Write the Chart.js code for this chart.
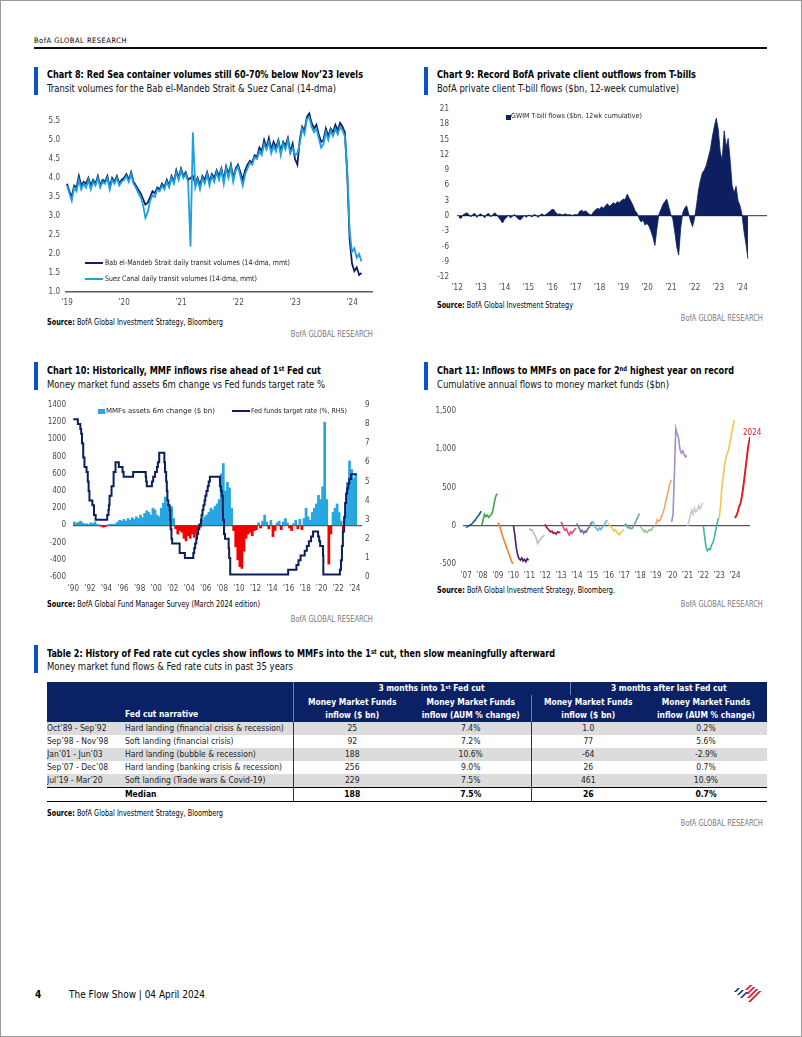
<!DOCTYPE html>
<html><head><meta charset="utf-8"><title>BofA Flow Show p4</title>
<script src="https://cdn.jsdelivr.net/npm/chart.js@4.4.1/dist/chart.umd.min.js"></script>
<style>
*{box-sizing:border-box}
html,body{margin:0;padding:0;background:#fff}
body{width:802px;height:1037px;position:relative;overflow:hidden;font-family:'Liberation Sans Narrow','DejaVu Sans Condensed',Roboto,sans-serif;color:#000}
.a{position:absolute;white-space:nowrap;line-height:1}
.acc{position:absolute;width:4px;height:28px;background:#0b52c4}
.t{font-weight:bold;font-size:10.5px}
.s{font-size:10.5px;color:#111}
.src{font-size:8px}
.src b{font-weight:bold}
.gr{font-size:8px;color:#7a7a7a}
.lg{font-size:7.5px;color:#222}
canvas{position:absolute}
sup{font-size:65%;line-height:0;vertical-align:0.45em}
#t2{position:absolute;left:47px;top:682px;width:720px;border-collapse:collapse;table-layout:fixed;font-size:8.5px}
#t2 td{padding:0;line-height:1;white-space:nowrap;overflow:hidden}
#t2 tr.h td{background:#0a2166;color:#fff;font-weight:bold;font-size:8.4px;text-align:center}
#t2 tr.h1 td{height:13px}
#t2 tr.h2 td{height:27px;line-height:13px}
#t2 tr.d td{height:13px;text-align:center;color:#222}
#t2 tr.g td{background:#dcdcdc}
#t2 tr.m td{height:14px;font-weight:bold;text-align:center;border-top:1.5px solid #000;border-bottom:1.5px solid #000}
#t2 tr td.l{text-align:left}
#t2 tr td.sepC{border-left:1px solid #333}
#t2 tr td.sepE{border-left:1px solid #333}
#t2 tr.h td.sepC,#t2 tr.h td.sepE,#t2 tr.h td.sepH{border-left:1px solid #6d7fae}
</style></head><body>
<div style="position:absolute;left:0;top:0;width:802px;height:1037px;border:1px solid #9a9a9a"></div>
<div class="a" data-w="93" style="left:34px;top:37px;font-size:7.5px;letter-spacing:0.5px">BofA GLOBAL RESEARCH</div>
<div style="position:absolute;left:34px;top:47px;width:733px;height:1.5px;background:#111"></div>

<!-- Chart 8 -->
<div class="acc" style="left:34px;top:67px"></div>
<div class="a t" data-w="316" style="left:47px;top:69px">Chart 8: Red Sea container volumes still 60-70% below Nov’23 levels</div>
<div class="a s" data-w="289" style="left:47px;top:83px">Transit volumes for the Bab el-Mandeb Strait &amp; Suez Canal (14-dma)</div>
<canvas id="c8"></canvas>
<div style="position:absolute;left:85px;top:262px;width:18px;height:2px;background:#0c1f5f"></div>
<div class="a lg" data-w="185" style="left:105px;top:259px">Bab el-Mandeb Strait daily transit volumes (14-dma, mmt)</div>
<div style="position:absolute;left:85px;top:278px;width:18px;height:2px;background:#1ea0e0"></div>
<div class="a lg" data-w="152" style="left:105px;top:275px">Suez Canal daily transit volumes (14-dma, mmt)</div>
<div class="a src" data-w="176" style="left:47px;top:319px"><b>Source:</b> BofA Global Investment Strategy, Bloomberg</div>
<div class="a gr" data-w="82" style="right:429px;top:331px">BofA GLOBAL RESEARCH</div>

<!-- Chart 9 -->
<div class="acc" style="left:424px;top:67px"></div>
<div class="a t" data-w="259" style="left:437px;top:69px">Chart 9: Record BofA private client outflows from T-bills</div>
<div class="a s" data-w="242" style="left:437px;top:83px">BofA private client T-bill flows ($bn, 12-week cumulative)</div>
<canvas id="c9"></canvas>
<div style="position:absolute;left:506px;top:115px;width:5px;height:5px;background:#0d1f5e"></div>
<div class="a lg" data-w="131" style="left:511px;top:113px;font-size:7px">GWIM T-bill flows ($bn, 12wk cumulative)</div>
<div class="a src" data-w="136" style="left:437px;top:302px"><b>Source:</b> BofA Global Investment Strategy</div>
<div class="a gr" data-w="82" style="right:39px;top:315px">BofA GLOBAL RESEARCH</div>

<!-- Chart 10 -->
<div class="acc" style="left:34px;top:362px"></div>
<div class="a t" data-w="274" style="left:47px;top:365px">Chart 10: Historically, MMF inflows rise ahead of 1<sup>st</sup> Fed cut</div>
<div class="a s" data-w="278" style="left:47px;top:379px">Money market fund assets 6m change vs Fed funds target rate %</div>
<canvas id="c10"></canvas>
<div style="position:absolute;left:98px;top:409px;width:7px;height:5px;background:#27a7df"></div>
<div class="a lg" data-w="109" style="left:106px;top:408px;font-size:7px">MMFs assets 6m change ($ bn)</div>
<div style="position:absolute;left:232px;top:410px;width:18px;height:2px;background:#0b1f5d"></div>
<div class="a lg" data-w="96" style="left:251px;top:408px;font-size:7px">Fed funds target rate (%, RHS)</div>
<div class="a src" data-w="213" style="left:47px;top:601px"><b>Source:</b> BofA Global Fund Manager Survey (March 2024 edition)</div>
<div class="a gr" data-w="82" style="right:429px;top:616px">BofA GLOBAL RESEARCH</div>

<!-- Chart 11 -->
<div class="acc" style="left:424px;top:362px"></div>
<div class="a t" data-w="297" style="left:437px;top:365px">Chart 11: Inflows to MMFs on pace for 2<sup>nd</sup> highest year on record</div>
<div class="a s" data-w="232" style="left:437px;top:379px">Cumulative annual flows to money market funds ($bn)</div>
<canvas id="c11"></canvas>
<div class="a" style="left:743px;top:429px;font-size:8px;color:#e8141c">2024</div>
<div class="a src" data-w="178" style="left:437px;top:587px"><b>Source:</b> BofA Global Investment Strategy, Bloomberg.</div>
<div class="a gr" data-w="82" style="right:39px;top:601px">BofA GLOBAL RESEARCH</div>

<!-- Table 2 -->
<div class="acc" style="left:34px;top:645px"></div>
<div class="a t" data-w="508" style="left:47px;top:648px">Table 2: History of Fed rate cut cycles show inflows to MMFs into the 1<sup>st</sup> cut, then slow meaningfully afterward</div>
<div class="a s" data-w="246" style="left:47px;top:661px">Money market fund flows &amp; Fed rate cuts in past 35 years</div>
<table id="t2">
<colgroup><col style="width:78px"><col style="width:168px"><col style="width:118px"><col style="width:120px"><col style="width:39px"><col style="width:75px"><col style="width:122px"></colgroup>
<tbody id="t2b"></tbody>
</table>
<div class="a src" data-w="176" style="left:47px;top:810px"><b>Source:</b> BofA Global Investment Strategy, Bloomberg</div>
<div class="a gr" data-w="82" style="right:39px;top:820px">BofA GLOBAL RESEARCH</div>

<!-- Footer -->
<div class="a" style="left:35px;top:990px;font-size:10px;font-weight:bold">4</div>
<div class="a" data-w="136" style="left:69px;top:990px;font-size:10px">The Flow Show | 04 April 2024</div>
<svg style="position:absolute;left:731px;top:984px" width="34" height="19" viewBox="0 0 34 19">
<polygon points="3,8 7,4 9,4 5,8" fill="#0a2166"/>
<polygon points="6,11 11,6 13,6 8,11" fill="#0a2166"/>
<polygon points="9,14 15,8 17,8 11,14" fill="#0a2166"/>
<polygon points="14,6 19,1 21.5,1 16.5,6" fill="#e31837"/>
<polygon points="15,10 22,3 24.5,3 17.5,10" fill="#e31837"/>
<polygon points="16,14 25,5 27.5,5 18.5,14" fill="#e31837"/>
<polygon points="17,18 28,7 30.5,7 19.5,18" fill="#e31837"/>
</svg>

<script>
// ---------------- DATA ----------------
// Chart 8: semi-monthly readings from Jan 2019
const c8Start = 2019, c8Step = 1/24;
const c8YTicks = [1.0,1.5,2.0,2.5,3.0,3.5,4.0,4.5,5.0,5.5];
const c8XTicks = [2019,2020,2021,2022,2023,2024];
const babMandeb = [3.85,3.65,3.5,3.8,3.75,4.05,3.8,3.9,3.85,4.0,3.8,3.95,3.85,4.05,3.8,3.95,3.9,4.05,3.75,4.0,3.9,4.05,3.85,3.95,
 4.0,4.1,3.95,4.15,3.9,3.8,3.7,3.6,3.45,3.3,3.35,3.5,3.65,3.6,3.75,3.7,3.85,3.75,3.95,3.8,4.05,3.9,4.2,4.0,
 4.25,4.05,4.15,3.95,4.0,4.05,3.85,4.0,3.8,4.05,3.95,4.15,3.9,4.1,4.0,4.2,4.05,4.25,3.95,4.3,4.1,4.35,4.0,4.25,
 4.35,4.15,3.95,4.2,4.35,4.45,4.4,4.6,4.55,4.8,4.7,5.0,4.8,5.05,4.75,4.95,4.8,5.0,4.7,4.95,4.85,5.05,4.7,4.9,
 4.5,4.35,5.0,5.35,5.25,5.6,5.7,5.45,5.3,5.4,5.15,4.95,5.0,5.3,5.1,5.3,5.2,5.4,5.25,5.45,5.35,5.2,4.1,2.4,
 1.75,1.55,1.65,1.45,1.5];
const suezCanal = [3.8,3.6,3.4,3.75,3.65,3.95,3.7,3.85,3.75,3.95,3.7,3.9,3.8,4.0,3.75,3.9,3.85,4.0,3.7,3.95,3.85,4.0,3.8,3.9,
 3.95,4.05,3.9,4.1,3.85,3.75,3.6,3.5,3.3,2.95,3.1,3.4,3.55,3.5,3.7,3.65,3.8,3.7,3.9,3.75,4.0,3.85,4.15,3.95,
 4.2,4.0,4.1,3.9,2.2,5.2,3.75,3.95,3.7,4.0,3.85,4.1,3.8,4.05,3.9,4.15,3.95,4.2,3.85,4.25,4.0,4.3,3.9,4.2,
 4.3,4.05,3.8,4.1,4.25,4.4,4.35,4.55,4.5,4.7,4.6,4.9,4.75,4.95,4.65,4.85,4.7,4.95,4.6,4.9,4.75,5.0,4.65,4.8,
 4.6,4.65,4.9,5.3,5.15,5.55,5.6,5.35,5.2,5.3,5.05,4.8,4.9,5.2,5.0,5.25,5.1,5.3,5.15,5.35,5.25,5.1,4.2,2.6,
 2.05,2.15,1.9,2.0,1.8];

// Chart 9: monthly readings from Feb 2012
const c9Start = 2012 + 1/12, c9Step = 1/12;
const c9YTicks = [-12,-9,-6,-3,0,3,6,9,12,15,18,21];
const c9XTicks = [2012,2013,2014,2015,2016,2017,2018,2019,2020,2021,2022,2023,2024];
const tbillFlows = [-0.3,-0.5,0.2,0.4,0.6,0.3,-0.2,0.3,0.5,-0.3,0.2,0.4,
 0.1,-0.4,0.3,0.5,-0.2,0.2,0.6,0.3,-0.3,-0.8,-1.4,-0.7,
 -0.3,0.2,-0.4,-0.1,0.3,-0.2,-0.6,-0.8,-0.4,0.1,-0.3,0.2,
 0.0,-0.2,0.3,0.1,-0.3,0.2,0.4,0.1,0.3,0.6,0.9,1.3,
 1.2,0.6,0.3,0.4,0.2,0.3,0.4,0.2,0.3,0.1,0.2,0.3,
 0.2,0.9,1.1,0.8,1.0,0.6,0.3,0.2,0.8,1.2,1.5,1.3,
 1.8,1.5,2.0,2.4,1.9,2.2,2.6,2.3,2.8,2.6,3.0,3.3,
 3.2,4.3,3.5,2.8,2.0,1.0,0.5,-0.5,-1.2,-0.8,-1.8,-1.5,
 -2.0,-3.0,-4.2,-5.8,-2.5,0.3,1.2,2.2,2.8,3.3,1.8,0.3,
 -0.5,-3.0,-6.0,-7.7,-2.5,0.5,1.5,2.0,0.5,-1.0,-2.1,-0.5,
 2.0,5.0,7.0,8.5,9.0,10.0,11.5,13.0,15.5,17.5,19.2,17.0,
 12.5,11.0,16.7,13.5,15.2,11.0,6.0,4.5,5.8,3.0,2.0,0.3,
 -3.0,-5.5,-8.4];

// Chart 10: quarterly MMF 6m change ($bn) from 1990Q1, Fed funds target (change dates)
const c10Start = 1990.125, c10Step = 0.25;
const c10YTicks = [-600,-400,-200,0,200,400,600,800,1000,1200,1400];
const c10Y2Ticks = [0,1,2,3,4,5,6,7,8,9];
const c10XTicks = [1990,1992,1994,1996,1998,2000,2002,2004,2006,2008,2010,2012,2014,2016,2018,2020,2022,2024];
const mmfChange = [40,25,35,50, 30,15,20,10, 30,20,40,10, 5,-10,-20,-15, 5,10,15,10,
 20,40,60,50, 70,50,80,60, 90,70,100,80, 120,90,140,170, 150,120,200,180,
 120,100,200,260, 330,250,180,220, 80,-40,-100,-60, -80,-150,-180,-120, -150,-100,-140,-90,
 -40,-20,60,100, 120,150,200,180, 220,250,300,600, 720,400,500,435, 200,-60,-250,-400,
 -480,-500,-300,-150, -100,-80,-120,-60, -50,30,-30,50, 120,40,-40,60, -130,-60,30,50,
 -50,40,80,30, -30,-60,20,60, -40,70,-50,80, 200,100,60,150, 200,250,350,300,
 450,1200,300,-450, -100,150,200,250, 150,50,-70,150, 500,750,650,550, 600];
const ffDates = [1990.0,1990.55,1990.85,1990.95,1991.05,1991.2,1991.35,1991.6,1991.75,1991.85,1991.95,1992.3,1992.5,1992.7,
 1994.1,1994.25,1994.3,1994.38,1994.62,1994.87,1995.1,1995.5,1995.95,1996.08,1997.23,1998.75,1998.8,1998.88,
 1999.5,1999.65,1999.88,2000.1,2000.22,2000.38,2001.0,2001.08,2001.22,2001.3,2001.37,2001.48,2001.64,2001.72,
 2001.76,2001.86,2001.95,2002.85,2003.48,2004.5,2004.61,2004.72,2004.86,2004.95,2005.09,2005.22,2005.42,2005.5,
 2005.61,2005.72,2005.86,2005.95,2006.09,2006.24,2006.36,2006.5,2007.72,2007.83,2007.95,2008.06,2008.08,2008.21,
 2008.33,2008.77,2008.83,2008.96,2015.96,2016.96,2017.21,2017.46,2017.96,2018.22,2018.46,2018.73,2018.97,2019.58,
 2019.71,2019.83,2020.17,2020.21,2022.21,2022.34,2022.46,2022.57,2022.72,2022.84,2022.96,2023.09,2023.22,2023.34,
 2023.57,2024.25];
const ffRates = [8.25,8.0,7.75,7.5,7.0,6.25,5.75,5.5,5.0,4.5,4.0,3.75,3.25,3.0,
 3.25,3.5,3.75,4.25,4.75,5.5,6.0,5.75,5.5,5.25,5.5,5.25,5.0,4.75,
 5.0,5.25,5.5,5.75,6.0,6.5,6.0,5.5,5.0,4.5,4.0,3.75,3.5,3.0,
 2.5,2.0,1.75,1.25,1.0,1.25,1.5,1.75,2.0,2.25,2.5,2.75,3.0,3.25,
 3.5,3.75,4.0,4.25,4.5,4.75,5.0,5.25,4.75,4.5,4.25,3.5,3.0,2.25,
 2.0,1.5,1.0,0.125,0.375,0.625,0.875,1.125,1.375,1.625,1.875,2.125,2.375,2.125,
 1.875,1.625,1.125,0.125,0.375,0.875,1.625,2.375,3.125,3.875,4.375,4.625,4.875,5.125,
 5.375,5.375];

// Chart 11: cumulative annual flows ($bn), ~monthly within each year
const c11YTicks = [-500,0,500,1000,1500];
const c11XTicks = [2007,2008,2009,2010,2011,2012,2013,2014,2015,2016,2017,2018,2019,2020,2021,2022,2023,2024];
const years11 = [2007,2008,2009,2010,2011,2012,2013,2014,2015,2016,2017,2018,2019,2020,2021,2022,2023,2024];
const colors11 = ['#1b5e82','#35a845','#f0841f','#4a1c6e','#bdbdbd','#a4123f','#dd4c76','#7c6e9e','#62b8e6','#f5c84a','#6aa2a8','#8ccf8c','#f4a66a','#a58cc8','#c9c9c9','#3db5a5','#fbc34a','#e8141c'];
const flows2007 = [-20,-15,0,10,20,40,60,80,110,130,160,190];
const flows2008 = [10,80,150,120,140,110,130,150,200,300,380,420];
const flows2009 = [40,20,-40,-100,-160,-210,-260,-310,-360,-410,-460,-500];
const flows2010 = [0,-120,-280,-380,-430,-450,-420,-460,-440,-470,-430,-450];
const flows2011 = [-30,-60,-50,-90,-120,-160,-230,-200,-180,-150,-140,-120];
const flows2012 = [20,-20,-40,-60,-80,-70,-100,-90,-110,-80,-90,-80];
const flows2013 = [50,20,-30,-60,-40,-90,-120,-80,-100,-70,-50,-30];
const flows2014 = [30,0,-40,-80,-60,-100,-70,-80,-40,-20,20,50];
const flows2015 = [60,20,-20,-40,-60,-30,-50,-20,0,30,60,70];
const flows2016 = [30,0,-20,-40,-70,-50,-80,-100,-120,-90,-70,-50];
const flows2017 = [0,20,-10,-30,-20,-40,-30,0,40,80,120,160];
const flows2018 = [-10,-30,-50,-80,-60,-90,-70,-50,-60,-30,-10,0];
const flows2019 = [20,80,60,70,120,160,220,300,380,460,540,600];
const flows2020 = [50,150,700,1270,1200,1150,1000,950,980,930,900,920];
const flows2021 = [-10,60,120,200,150,230,180,200,260,220,260,300];
const flows2022 = [0,-150,-280,-330,-300,-310,-250,-220,-150,-60,30,100];
const flows2023 = [100,250,500,650,800,900,950,1000,1100,1200,1300,1380];
const flows2024 = [100,130,180,250,290,380,500,650,800,950,1080,1160];
const flows11 = [flows2007,flows2008,flows2009,flows2010,flows2011,flows2012,flows2013,flows2014,flows2015,flows2016,flows2017,flows2018,flows2019,flows2020,flows2021,flows2022,flows2023,flows2024];

// Table 2
const periods = ['Oct’89 - Sep’92','Sep’98 - Nov’98','Jan’01 - Jun’03','Sep’07 - Dec’08','Jul’19 - Mar’20'];
const narratives = ['Hard landing (financial crisis & recession)','Soft landing (financial crisis)','Hard landing (bubble & recession)','Hard landing (banking crisis & recession)','Soft landing (Trade wars & Covid-19)'];
const inflowFirst = ['25','92','188','256','229'];
const aumFirst = ['7.4%','7.2%','10.6%','9.0%','7.5%'];
const inflowAfter = ['1.0','77','-64','26','461'];
const aumAfter = ['0.2%','5.6%','-2.9%','0.7%','10.9%'];
const medianRow = ['188','7.5%','26','0.7%'];

// ---------------- RENDER ----------------
const FONT = getComputedStyle(document.body).fontFamily;
Chart.defaults.font.family = FONT;
Chart.defaults.font.size = 8;
Chart.defaults.color = '#4a4a4a';
Chart.defaults.animation = false;
Chart.defaults.events = [];
Chart.defaults.plugins.legend.display = false;
Chart.defaults.plugins.tooltip.enabled = false;

const yr2 = v => '\u2019' + String(((Math.round(v) % 100) + 100) % 100).padStart(2, '0');

function mkX(min, max, ticks, xH, pad, border) {
  return {type:'linear', min, max, offset:false,
    afterBuildTicks: s => { s.ticks = ticks.map(v => ({value:v})); },
    afterFit: s => { s.height = xH; s.paddingLeft = 0; s.paddingRight = 0; },
    ticks:{callback: v => yr2(v), padding:pad, maxRotation:0, minRotation:0, autoSkip:false, font:{size:8}},
    grid:{display:false, drawTicks:false},
    border: border ? {display:true, color:'#5a5a5a', width:1.5} : {display:false}};
}
function mkY(min, max, ticks, fmt, w, pad, pos, zero) {
  return {type:'linear', position:pos, min, max,
    afterBuildTicks: s => { s.ticks = ticks.map(v => ({value:v})); },
    afterFit: s => { s.width = w; s.paddingTop = 0; s.paddingBottom = 0; },
    ticks:{callback: fmt, padding:pad, font:{size:8}},
    grid: zero ? {display:true, drawTicks:false, lineWidth:1.2,
      color: c => (c.tick && c.tick.value === 0) ? '#555' : 'rgba(0,0,0,0)'} : {display:false, drawTicks:false},
    border:{display:false}};
}
function place(id, plot, yW, xH, rW, hasRightAxis, cfg) {
  const padTop = 10;
  const c = document.getElementById(id);
  const L = plot.l - yW, T = plot.t - padTop;
  const W = plot.r + rW - L, H = plot.b + xH - T;
  c.width = W; c.height = H;
  c.style.left = L + 'px'; c.style.top = T + 'px'; c.style.width = W + 'px'; c.style.height = H + 'px';
  cfg.options = cfg.options || {};
  cfg.options.responsive = false;
  cfg.options.maintainAspectRatio = false;
  cfg.options.devicePixelRatio = 1;
  cfg.options.layout = {padding:{top:padTop, right: hasRightAxis ? 0 : rW, left:0, bottom:0}};
  return new Chart(c, cfg);
}
const pts = (vals, start, step) => vals.map((v, i) => ({x: start + i * step, y: v}));

// Chart 8
{
  const p = {l:66, t:111, r:372, b:292};
  const xMin = 2019 - 1/57, xMax = 2019 + (p.r - 67) / 57;
  const yMax = 1 + (p.b - p.t) / 38;
  place('c8', p, 30, 20, 6, false, {
    type:'line',
    data:{datasets:[
      {data: pts(suezCanal, c8Start, c8Step), borderColor:'#1ea0e0', borderWidth:1.8, pointRadius:0, tension:0, order:0},
      {data: pts(babMandeb, c8Start, c8Step), borderColor:'#0c1f5f', borderWidth:1.8, pointRadius:0, tension:0, order:1}
    ]},
    options:{scales:{
      x: mkX(xMin, xMax, c8XTicks, 20, 6, true),
      y: mkY(1, yMax, c8YTicks, v => v.toFixed(1), 30, 6, 'left', false)
    }}
  });
}
// Chart 9
{
  const p = {l:457, t:109, r:767, b:277};
  const xMax = 2012 + (p.r - 457) / 23.75;
  place('c9', p, 37, 20, 4, false, {
    type:'line',
    data:{datasets:[
      {data: pts(tbillFlows, c9Start, c9Step), borderColor:'#0d1f5e', backgroundColor:'#0d1f5e', borderWidth:0.8, pointRadius:0, tension:0, fill:'origin'}
    ]},
    options:{scales:{
      x: mkX(2012, xMax, c9XTicks, 20, 6, false),
      y: mkY(-12, 21, c9YTicks, v => String(v), 37, 8, 'left', true)
    }}
  });
}
// Chart 10
{
  const p = {l:73, t:405, r:362, b:577};
  const xMin = 1990 - 0.3/8.285, xMax = 1990 + (p.r - 73) / 8.285;
  place('c10', p, 37, 20, 16, true, {
    type:'bar',
    data:{datasets:[
      {type:'line', data: ffDates.map((d, i) => ({x:d, y:ffRates[i]})), yAxisID:'y1', borderColor:'#0b1f5d', borderWidth:2, pointRadius:0, stepped:true, order:0},
      {type:'bar', data: pts(mmfChange, c10Start, c10Step), yAxisID:'y', backgroundColor: mmfChange.map(v => v >= 0 ? '#27a7df' : '#f20000'), barPercentage:1, categoryPercentage:1, borderWidth:0, order:1}
    ]},
    options:{scales:{
      x: mkX(xMin, xMax, c10XTicks, 20, 7, false),
      y: mkY(-600, 1400, c10YTicks, v => String(v), 37, 7, 'left', true),
      y1: mkY(0, 9, c10Y2Ticks, v => String(v), 16, 3, 'right', false)
    }}
  });
}
// Chart 11
{
  const p = {l:463, t:411, r:750, b:564};
  const xMin = 2007 - 3/15.82, xMax = 2007 + (p.r - 466) / 15.82;
  place('c11', p, 43, 20, 6, false, {
    type:'line',
    data:{datasets: flows11.map((vals, k) => ({
      data: vals.map((v, j) => ({x: years11[k] + j * 0.96 / (vals.length - 1), y: v})),
      borderColor: colors11[k], borderWidth: k === flows11.length - 1 ? 1.9 : 1.6, pointRadius:0, tension:0
    }))},
    options:{scales:{
      x: mkX(xMin, xMax, c11XTicks, 20, 7, false),
      y: mkY(-500, 1500, c11YTicks, v => v.toLocaleString('en-US'), 43, 7, 'left', true)
    }}
  });
}
// Table 2
{
  const tb = document.getElementById('t2b');
  const esc = s => s.replace(/&/g, '&amp;');
  let h = '';
  h += '<tr class="h h1"><td colspan="2"></td><td colspan="3" class="sepC">3 months into 1<sup>st</sup> Fed cut</td><td colspan="2" class="sepH">3 months after last Fed cut</td></tr>';
  h += '<tr class="h h2"><td></td><td class="l" style="vertical-align:bottom;padding-bottom:1px">Fed cut narrative</td>' +
       '<td class="sepC">Money Market Funds<br>inflow ($ bn)</td><td>Money Market Funds<br>inflow (AUM % change)</td>' +
       '<td colspan="2" class="sepE">Money Market Funds<br>inflow ($ bn)</td><td>Money Market Funds<br>inflow (AUM % change)</td></tr>';
  periods.forEach((per, i) => {
    h += '<tr class="d' + (i % 2 === 0 ? ' g' : '') + '"><td class="l">' + per + '</td><td class="l">' + esc(narratives[i]) + '</td>' +
         '<td class="sepC">' + inflowFirst[i] + '</td><td>' + aumFirst[i] + '</td><td colspan="2" class="sepE">' + inflowAfter[i] + '</td><td>' + aumAfter[i] + '</td></tr>';
  });
  h += '<tr class="m"><td></td><td class="l">Median</td><td class="sepC">' + medianRow[0] + '</td><td>' + medianRow[1] + '</td><td colspan="2" class="sepE">' + medianRow[2] + '</td><td>' + medianRow[3] + '</td></tr>';
  tb.innerHTML = h;
}
// Fit text blocks to the widths measured on the reference (condensed type)
document.querySelectorAll('[data-w]').forEach(el => {
  const w = el.getBoundingClientRect().width;
  if (!w) return;
  const k = Number(el.dataset.w) / w;
  el.style.transformOrigin = el.classList.contains('gr') ? 'right center' : 'left center';
  el.style.transform = 'scaleX(' + k.toFixed(4) + ')';
});
</script>
</body></html>
